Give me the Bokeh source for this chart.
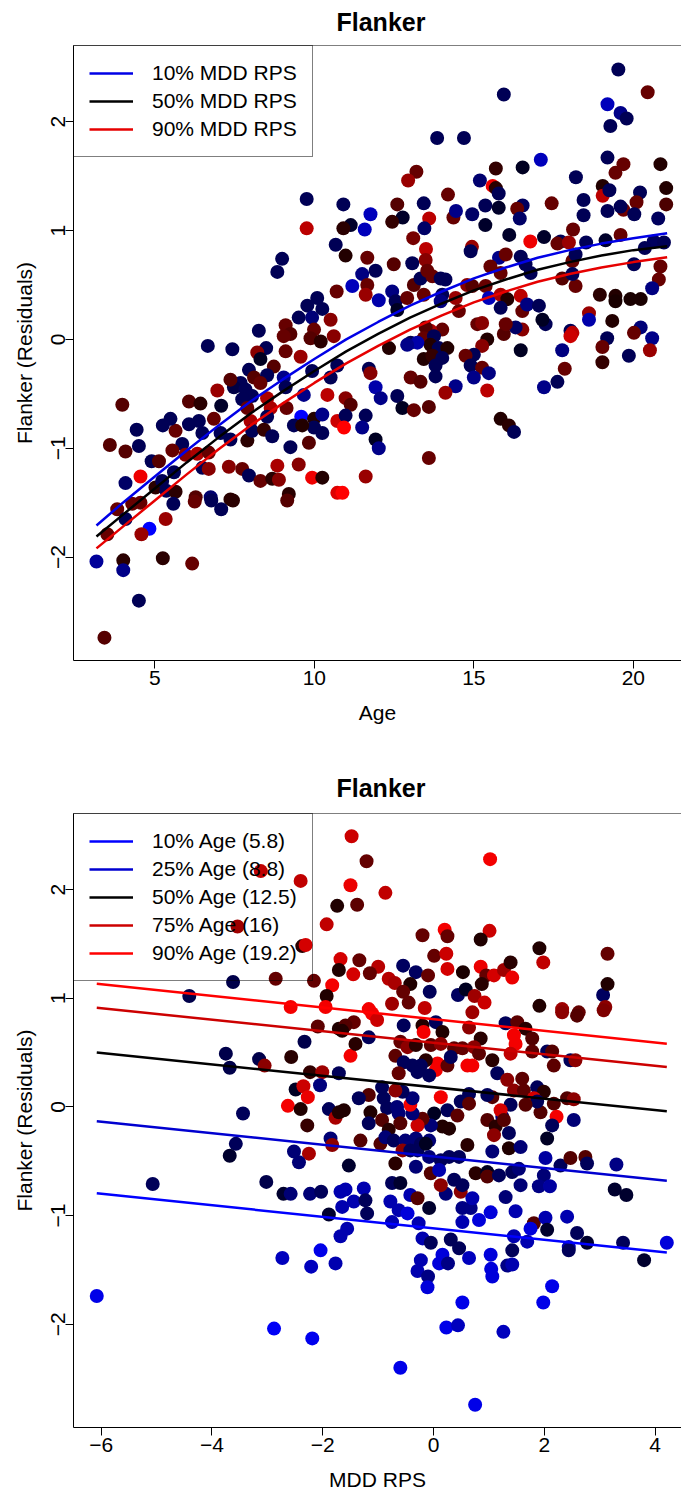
import math
from bokeh.plotting import figure
from bokeh.models import (ColumnDataSource, Range1d, FixedTicker, Span,
                          Legend, LegendItem)
from bokeh.layouts import column
from bokeh.embed import file_html
from bokeh.resources import INLINE

FONT = "Liberation Sans"

# ------------------------------------------------------------------
# Panel 1: Flanker residuals against Age, shaded by MDD RPS
# ------------------------------------------------------------------
top_age = [
    19.53, 20.45, 15.94, 19.19, 19.60, 19.79, 19.28, 13.85, 14.69, 17.10,
    19.19, 19.69, 20.85, 13.20, 12.94, 15.69, 16.53, 19.44, 18.20, 15.19,
    15.59, 15.69, 15.78, 19.04, 19.04, 19.25, 20.21, 21.03, 10.91, 11.76,
    12.60, 12.77, 13.43, 14.19, 15.36, 15.78, 16.53, 16.36, 17.44, 18.44,
    18.44, 19.19, 19.69, 19.60, 20.10, 20.03, 21.03, 20.78, 11.14, 10.91,
    11.58, 12.44, 13.60, 13.45, 14.36, 14.44, 14.95, 15.36, 16.44, 13.10,
    13.50, 14.94, 16.11, 16.77, 17.20, 17.72, 17.62, 17.98, 18.11, 18.52,
    19.13, 19.60, 20.64, 20.96, 20.36, 9.76, 9.76, 10.67, 8.99, 8.84,
    10.70, 10.09, 9.78, 9.51, 9.93, 10.25, 10.51, 9.10, 9.25, 9.04,
    9.99, 9.88, 10.20, 10.61, 8.26, 6.66, 7.43, 8.49, 9.10, 9.57,
    8.21, 8.31, 8.73, 7.95, 8.11, 8.52, 9.04, 9.93, 10.51, 10.72,
    9.10, 8.31, 7.69, 7.48, 7.37, 7.84, 6.96, 8.05, 8.52, 9.67,
    10.41, 6.07, 6.43, 7.08, 7.74, 7.90, 8.63, 9.13, 8.52, 8.00,
    9.59, 9.99, 10.25, 10.72, 9.99, 10.25, 9.36, 9.62, 6.85, 6.38,
    6.07, 5.65, 5.49, 5.25, 4.43, 3.98, 6.49, 7.06, 7.37, 7.90,
    8.05, 8.42, 8.68, 9.25, 9.83, 5.86, 5.55, 5.96, 6.33, 6.69,
    6.49, 6.69, 4.90, 5.13, 4.50, 4.08, 3.59, 4.08, 4.55, 5.02,
    5.23, 5.36, 5.65, 5.60, 6.75, 6.28, 7.37, 7.32, 7.74, 7.95,
    8.31, 8.68, 8.84, 8.89, 9.20, 9.51, 9.93, 10.25, 10.72, 3.82,
    4.29, 4.55, 4.08, 3.51, 4.83, 4.58, 5.34, 5.58, 6.25, 6.77,
    7.08, 7.45, 9.15, 3.17, 4.01, 4.01, 5.25, 6.17, 4.50, 3.42,
    10.98, 11.66, 12.49, 13.07, 13.49, 14.90, 15.79, 16.00, 16.47, 16.62,
    15.52, 15.84, 16.78, 17.77, 18.09, 18.19, 18.19, 18.09, 20.02, 20.85,
    20.80, 20.59, 11.50, 11.92, 11.19, 11.66, 11.61, 12.02, 12.44, 12.55,
    12.60, 12.91, 13.12, 13.33, 13.54, 13.70, 13.96, 14.11, 13.43, 14.01,
    13.96, 14.43, 14.53, 14.79, 14.95, 15.37, 15.47, 15.84, 16.05, 15.84,
    16.47, 16.52, 16.67, 17.04, 17.25, 17.15, 18.61, 18.61, 18.95, 19.44,
    19.44, 19.91, 20.23, 19.34, 20.23, 20.02, 20.59, 20.52, 19.18, 19.03,
    19.03, 19.86, 18.03, 18.09, 18.03, 17.77, 17.85, 17.62, 17.20, 16.47,
    16.52, 16.31, 15.94, 16.00, 15.42, 15.26, 15.00, 14.74, 14.90, 15.26,
    15.47, 15.00, 14.43, 14.11, 15.42, 15.11, 15.26, 14.01, 13.64, 13.49,
    13.43, 13.75, 13.64, 13.90, 14.17, 13.43, 13.70, 14.01, 13.80, 13.80,
    13.02, 13.23, 12.91, 12.34, 13.02, 13.33, 11.71, 11.76, 11.92, 12.08,
    12.60, 12.76, 13.12, 13.59, 10.98, 11.14, 10.98, 11.61, 11.50, 10.93,
    11.92, 12.02, 13.59, 15.84, 16.10, 16.26, 11.61, 10.88,
]
top_resid = [
    2.48, 2.27, 2.25, 2.16, 2.08, 2.03, 1.96, 1.85, 1.85, 1.65,
    1.67, 1.61, 1.61, 1.54, 1.46, 1.57, 1.58, 1.53, 1.49, 1.46,
    1.41, 1.39, 1.34, 1.41, 1.32, 1.37, 1.35, 1.39, 1.24, 1.15,
    1.24, 1.12, 1.25, 1.33, 1.23, 1.21, 1.23, 1.20, 1.25, 1.28,
    1.14, 1.18, 1.19, 1.22, 1.26, 1.15, 1.24, 1.11, 1.05, 1.02,
    1.01, 1.08, 1.11, 1.02, 1.12, 1.18, 1.15, 1.05, 1.11, 0.93,
    0.83, 0.85, 0.96, 0.90, 0.94, 0.90, 0.88, 0.89, 1.01, 0.89,
    0.91, 0.96, 0.90, 0.89, 0.84, 1.29, 1.02, 0.87, 0.74, 0.62,
    0.44, 0.38, 0.31, 0.20, 0.20, 0.28, 0.18, 0.13, 0.05, 0.03,
    0.09, 0.01, -0.02, 0.03, 0.08, -0.06, -0.09, -0.08, -0.11, -0.16,
    -0.12, -0.18, -0.25, -0.28, -0.35, -0.33, -0.35, -0.29, -0.35, -0.24,
    -0.44, -0.40, -0.40, -0.44, -0.37, -0.46, -0.47, -0.52, -0.54, -0.51,
    -0.51, -0.57, -0.59, -0.61, -0.55, -0.63, -0.63, -0.63, -0.71, -0.75,
    -0.71, -0.73, -0.69, -0.75, -0.81, -0.86, -0.79, -0.79, -0.73, -0.75,
    -0.78, -0.84, -0.73, -0.79, -0.83, -0.60, -0.86, -0.86, -0.92, -0.93,
    -0.84, -0.83, -0.89, -0.99, -0.95, -0.96, -1.02, -1.06, -1.05, -1.04,
    -1.18, -1.19, -1.12, -1.12, -0.98, -1.03, -0.97, -1.32, -1.26, -1.36,
    -1.30, -1.39, -1.40, -1.22, -1.45, -1.45, -1.47, -1.17, -1.19, -1.25,
    -1.30, -1.28, -1.16, -1.29, -1.42, -1.15, -1.27, -1.27, -1.41, -1.56,
    -1.51, -1.50, -1.65, -1.79, -1.74, -1.79, -1.65, -1.51, -1.49, -1.48,
    -1.56, -1.48, -1.48, -2.04, -2.03, -2.12, -2.01, -2.06, -2.40, -2.74,
    0.77, 0.75, 0.69, 0.70, 0.73, 0.81, 0.75, 0.78, 0.76, 0.69,
    0.67, 0.61, 0.61, 0.56, 0.72, 0.78, 0.49, 0.60, 0.69, 0.67,
    0.55, 0.47, 0.60, 0.63, 0.49, 0.50, 0.41, 0.36, 0.44, 0.35,
    0.27, 0.38, 0.50, 0.56, 0.63, 0.58, 0.56, 0.55, 0.41, 0.41,
    0.35, 0.38, 0.26, 0.50, 0.49, 0.49, 0.38, 0.41, 0.37, 0.29,
    0.40, 0.26, 0.32, 0.31, 0.14, 0.18, 0.24, 0.18, 0.41, 0.40,
    0.35, 0.37, 0.37, 0.17, 0.11, 0.06, 0.01, -0.10, 0.01, -0.07,
    -0.21, -0.15, 0.08, 0.06, 0.03, -0.10, -0.27, -0.39, -0.44, -0.10,
    0.09, 0.11, 0.05, 0.14, 0.00, -0.06, -0.14, -0.15, -0.24, -0.26,
    -0.31, -0.35, -0.43, -0.49, -0.47, 0.14, 0.15, 0.09, 0.08, 0.11,
    0.01, 0.03, -0.05, -0.08, -0.08, -0.18, -0.15, -0.17, -0.24, -0.34,
    -0.03, -0.03, -0.05, -0.08, -0.35, -0.39, -0.27, -0.31, -0.44, -0.54,
    -0.52, -0.63, -0.65, -0.62, -0.54, -0.60, -0.70, -0.70, -0.81, -0.81,
    -0.92, -1.00, -1.09, -0.73, -0.79, -0.85, -1.26, -1.41,
]
top_mdd = [
    -1.0, 1.2, -1.0, -2.2, -1.6, -1.0, -1.0, -1.0, -1.0, -2.2,
    -1.0, 1.2, 0.4, 1.2, 1.8, 0.6, -0.4, 1.2, -1.0, -1.3,
    2.8, 0.5, -1.0, 0.4, 2.2, -1.0, -1.0, 0.4, -1.0, -2.2,
    1.0, -0.5, -1.0, 1.2, -1.0, -0.5, -1.1, 1.2, 1.2, -1.0,
    -1.0, -1.0, 1.3, -1.0, 1.2, -1.0, 0.9, -1.1, -0.5, 0.5,
    -2.2, 0.6, 2.2, -1.2, 1.2, -1.6, -1.2, -0.5, -1.2, 1.4,
    2.2, 1.8, -0.5, 2.8, -0.5, -1.0, 1.2, 1.8, 1.2, -1.0,
    -0.5, 1.2, -1.1, -1.0, -1.0, -1.0, 2.2, -1.0, -1.0, -1.0,
    1.2, -1.0, -1.0, -1.0, -1.4, -1.0, 1.6, 1.2, 1.0, 1.2,
    1.2, 1.0, 0.5, 1.6, -1.0, -1.0, -1.0, -1.0, 1.2, 1.8,
    1.6, -0.4, 1.0, -1.0, 1.0, -1.0, -1.6, -1.0, -1.0, -1.0,
    -1.0, 1.2, -1.0, -0.8, 1.0, -1.0, 1.8, -1.0, 2.0, -1.6,
    2.2, 1.0, 0.5, -0.5, -1.0, 1.2, 2.0, 1.2, -1.0, 2.0,
    -3.0, 0.4, -1.6, 2.4, -1.0, -1.0, -1.0, 0.4, 1.2, -1.0,
    -1.0, 1.2, -1.0, -1.0, -1.0, 1.0, -1.0, -1.0, -1.0, 0.5,
    -1.0, 0.6, -1.0, -1.0, 1.0, -1.0, 1.2, 1.6, 2.0, 1.2,
    -1.0, 1.6, -1.0, 1.0, -1.0, 1.0, 1.0, -1.2, 2.8, 0.5,
    -1.0, -1.0, 0.5, -1.0, -1.3, 1.0, 0.5, 1.6, 1.2, -1.0,
    1.2, 0.5, 2.0, 1.6, 0.5, 1.6, 2.8, 0.4, 2.6, 1.2,
    1.2, 1.2, -1.0, 1.2, -3.0, 1.8, 1.8, -1.0, 1.2, -1.0,
    -1.0, 0.5, 1.0, -1.8, 0.5, -1.6, 0.5, 1.2, -1.0, 1.0,
    0.4, 1.2, 1.0, -1.0, 1.6, -1.0, -1.6, 1.2, -1.0, -1.0,
    1.2, 1.2, -1.0, 1.0, 1.2, -1.0, 1.2, -1.0, -1.0, 1.2,
    1.2, -1.5, -1.5, -1.0, -2.2, 1.2, 1.8, -2.0, -1.5, -1.0,
    -0.4, 1.2, 1.0, -1.0, 1.2, 1.2, -1.0, -1.0, 1.2, -1.0,
    -1.5, 1.8, 1.2, 1.6, 1.0, 1.2, -2.2, 2.0, 0.4, -1.0,
    2.2, 1.2, -1.5, -1.0, -1.0, -0.4, 1.8, -2.0, 0.5, 0.4,
    0.3, 0.3, 0.3, 0.4, -1.4, 1.2, -1.6, 1.8, -1.0, 1.2,
    0.6, -1.0, -1.0, 2.2, 2.4, -1.5, 1.2, -1.0, -1.6, -0.4,
    1.6, -1.2, 1.0, 1.2, 0.4, 1.6, -1.0, 1.2, -1.0, 1.2,
    -1.5, -1.6, -1.6, 1.8, 2.2, 1.2, 1.6, 1.2, 2.0, 1.0,
    1.2, -1.0, 0.4, -1.0, 0.4, 0.4, 0.6, -1.0, -1.0, -1.0,
    -1.0, -2.0, -1.6, 0.4, 1.2, 1.0, -1.0, 1.6, -2.0, -1.6,
    -1.0, -0.4, 1.2, 1.0, 1.6, 1.0, -1.0, -1.0, -1.6, 3.0,
    -0.4, -1.6, 1.2, 0.4, 0.5, -1.0, 1.8, 3.0,
]

# model curves at the 10th / 50th / 90th MDD RPS percentiles
curve_age = [3.17, 4, 5, 6, 7, 8, 9, 10, 11, 12, 13, 14, 15, 16, 17, 18, 19, 20, 21.06]
curve_mdd10 = [-1.71, -1.50, -1.26, -1.02, -0.79, -0.57, -0.37, -0.18, 0.00, 0.16,
               0.31, 0.44, 0.56, 0.66, 0.75, 0.82, 0.88, 0.93, 0.975]
curve_mdd50 = [-1.81, -1.61, -1.37, -1.13, -0.90, -0.68, -0.48, -0.29, -0.11, 0.05,
               0.20, 0.33, 0.45, 0.55, 0.64, 0.71, 0.77, 0.82, 0.856]
curve_mdd90 = [-1.92, -1.72, -1.48, -1.24, -1.01, -0.79, -0.59, -0.40, -0.22, -0.06,
               0.09, 0.22, 0.34, 0.44, 0.53, 0.60, 0.66, 0.71, 0.755]

# ------------------------------------------------------------------
# Panel 2: Flanker residuals against MDD RPS, shaded by Age
# ------------------------------------------------------------------
bot_mdd = [
    -3.12, -2.40, -1.74, -3.54, -1.93, -2.37, -2.31, -1.68, -1.71, -3.62,
    -2.85, -2.16, -1.83, -1.93, -4.41, -2.58, -1.95, -1.48, 1.02, -1.21,
    -1.50, -0.87, -1.38, -0.20, 0.20, 0.25, 1.01, 0.85, 1.91, 3.14,
    1.98, 0.01, 0.23, -1.34, -1.00, -1.45, -1.15, -0.81, -0.70, -0.55,
    -0.32, -0.10, -0.42, -0.55, -0.07, 0.25, 0.53, 0.44, 0.58, 0.85,
    0.95, 1.09, 1.27, 1.39, 1.42, 0.87, 0.74, 0.92, -0.75, -0.45,
    -0.16, 3.06, 3.14, 3.10, 1.91, 2.32, 2.62, -1.17, -2.09, -2.33,
    -1.71, -3.75, -3.68, -3.15, -3.05, -2.57, -2.23, -2.01, -1.71, -2.49,
    -2.35, -2.05, -2.27, -2.63, -2.40, -1.89, -1.77, -1.71, -2.28, -3.44,
    -3.57, -3.68, -2.52, -2.25, -2.43, -1.86, -1.83, -5.07, -3.02, -2.71,
    -2.58, -2.23, -2.03, -1.68, -1.89, -1.68, -2.04, -2.73, -1.11, -1.02,
    -1.44, -1.59, -1.65, -1.17, -1.50, -1.41, -0.54, -0.20, 0.04, -0.18,
    0.16, 0.70, 0.64, 0.85, 1.30, 1.51, 1.66, 1.45, 1.78, 1.48,
    1.39, 1.78, 2.05, 2.14, 2.17, 2.47, 2.56, 2.32, 2.59, 3.07,
    -0.60, -0.47, -0.69, -0.32, -0.05, 0.13, 0.37, 0.52, 0.73, 0.82,
    1.06, 0.61, 0.70, 0.07, 0.04, 0.25, -0.14, -0.23, -0.38, -0.54,
    -0.63, -0.29, -0.08, 0.31, 1.15, 1.33, 1.60, 1.45, 1.63, 1.87,
    1.99, 1.81, 2.17, 2.41, 2.53, 1.93, 2.22, 1.87, 2.14, 2.53,
    2.05, 1.66, 1.39, 1.24, 1.21, 1.06, 0.97, 0.97, 1.12, 1.09,
    1.36, 1.27, 1.36, 1.57, 1.06, 0.64, 0.49, 0.64, 0.13, 0.25,
    0.43, 0.01, 0.16, 0.28, -0.05, -0.20, -0.29, -0.38, -0.42, -0.38,
    -0.56, -0.69, -0.90, -0.93, -1.17, -1.35, -0.84, -0.66, -0.63, -1.14,
    -1.17, -0.93, -0.60, -0.81, -1.62, -1.32, -0.96, -0.87, -0.72, -0.51,
    -0.32, -0.23, -0.08, -0.56, -0.42, -0.29, -0.14, 0.61, -0.69, -0.32,
    -0.08, 0.13, 0.28, 0.46, -0.05, 0.10, 0.37, 0.22, 0.13, 0.49,
    0.52, 0.76, 0.97, 0.97, 1.18, 1.42, 1.54, 1.57, 1.30, 1.99,
    2.02, 1.90, 2.10, 2.29, 2.47, 2.74, 2.77, 3.30, 3.27, 3.48,
    -1.53, -1.59, -1.26, -1.44, -1.23, -0.75, -0.60, -0.78, -0.42, -0.29,
    -0.63, -0.47, -0.08, 0.52, 0.67, 0.70, 0.82, 1.03, 0.52, 1.48,
    1.81, 1.75, 2.02, 2.05, 2.41, 2.59, 2.77, 1.45, 1.69, 2.44,
    3.42, 4.21, -1.56, -1.65, -1.20, -0.75, -0.27, -0.20, -0.05, 0.31,
    0.46, 0.16, 1.03, 1.42, -0.23, -6.08, -2.21, -1.77, -2.88, -2.19,
    -0.29, -0.10, -0.11, 0.10, 0.26, 0.64, 1.04, 1.06, 1.33, 1.42,
    2.44, 0.52, 0.23, 0.44, 1.26, 1.98, 2.14, -0.60, 0.75, 3.80,
]
bot_resid = [
    2.17, 2.08, 1.85, 1.66, 1.68, 1.48, 1.49, 1.36, 1.26, 1.15,
    1.18, 1.16, 1.12, 1.02, 1.02, 0.92, 0.92, 2.49, 2.28, 2.26,
    2.04, 1.97, 1.86, 1.58, 1.63, 1.57, 1.62, 1.54, 1.46, 1.41,
    1.33, 1.39, 1.41, 1.35, 1.29, 1.22, 1.23, 1.18, 1.14, 1.30,
    1.24, 1.21, 1.13, 1.06, 1.06, 1.27, 1.24, 1.03, 1.08, 1.29,
    1.21, 1.21, 1.26, 1.33, 1.19, 1.13, 1.02, 0.96, 0.95, 0.96,
    0.91, 1.03, 1.13, 0.92, 0.93, 0.90, 0.87, 0.90, 0.74, 0.60,
    0.72, 0.49, 0.36, 0.44, 0.38, 0.46, 0.32, 0.32, 0.31, 0.16,
    0.19, 0.20, 0.09, 0.01, -0.02, -0.02, -0.10, -0.05, -0.17, -0.06,
    -0.34, -0.45, -0.41, -0.43, -0.51, -0.29, -0.35, -0.71, -0.69, -0.80,
    -0.80, -0.80, -0.78, -0.78, -0.99, -1.19, -1.32, -1.39, 0.86, 0.80,
    0.78, 0.75, 0.70, 0.64, 0.47, 0.58, 0.75, 0.75, 0.78, 0.69,
    0.69, 0.87, 0.73, 0.63, 0.77, 0.78, 0.72, 0.66, 0.63, 0.58,
    0.49, 0.51, 0.51, 0.51, 0.38, 0.43, 0.43, 0.87, 0.84, 0.89,
    0.60, 0.55, 0.47, 0.57, 0.57, 0.58, 0.54, 0.54, 0.55, 0.49,
    0.43, 0.38, 0.38, 0.40, 0.34, 0.38, 0.43, 0.38, 0.38, 0.41,
    0.31, 0.32, 0.29, 0.46, 0.31, 0.25, 0.26, 0.15, 0.15, 0.18,
    0.14, 0.08, 0.03, 0.08, 0.07, -0.05, -0.09, 0.05, -0.17, -0.12,
    -0.29, 0.02, 0.02, -0.09, -0.03, 0.09, 0.11, -0.12, -0.18, -0.26,
    -0.24, -0.12, -0.38, -0.37, -0.41, 0.12, 0.05, 0.03, 0.09, -0.03,
    -0.08, -0.06, -0.18, -0.20, -0.17, -0.11, -0.17, -0.06, 0.02, 0.08,
    0.14, 0.15, 0.08, 0.18, 0.11, 0.08, -0.01, 0.00, -0.06, -0.05,
    -0.15, -0.12, -0.15, -0.21, -0.03, -0.31, -0.34, -0.28, -0.31, -0.31,
    -0.29, -0.34, -0.31, -0.40, -0.40, -0.40, -0.34, -0.35, -0.52, -0.55,
    -0.46, -0.49, -0.46, -0.46, -0.61, -0.58, -0.67, -0.80, -0.72, -0.78,
    -0.72, -0.61, -0.60, -0.64, -0.63, -0.60, -0.57, -0.72, -0.83, -0.63,
    -0.47, -0.73, -0.73, -0.54, -0.47, -0.46, -0.52, -0.53, -0.76, -0.81,
    -0.54, -0.76, -0.75, -0.87, -0.86, -0.70, -0.70, -0.87, -0.81, -0.84,
    -0.95, -0.98, -0.93, -0.93, -0.93, -0.84, -1.04, -0.97, -1.06, -0.96,
    -1.07, -1.12, -1.02, -1.13, -1.01, -1.16, -1.25, -1.19, -1.24, -1.29,
    -1.25, -1.25, -1.12, -0.92, -0.98, -1.06, -1.07, -1.21, -1.25, -1.22,
    -1.30, -1.36, -1.36, -1.32, -1.41, -1.74, -1.47, -1.44, -2.04, -2.13,
    -1.51, -1.56, -1.66, -1.44, -1.44, -1.39, -1.49, -1.56, -1.46, -1.45,
    -1.32, -1.80, -2.03, -2.01, -2.07, -1.80, -1.65, -2.40, -2.74, -1.41,
]
bot_age = [
    18.8, 18.8, 13.2, 17.6, 18.8, 13.5, 19.5, 19.5, 13.2, 9.5,
    15.6, 15.6, 20.6, 13.2, 9.5, 20.6, 20.6, 19.2, 20.6, 15.6,
    20.3, 18.8, 15.3, 15.6, 20.6, 15.6, 19.2, 13.2, 13.2, 15.6,
    18.8, 15.6, 19.2, 15.6, 18.5, 19.5, 15.6, 18.5, 18.0, 8.8,
    8.8, 15.6, 13.2, 15.6, 9.0, 19.5, 13.0, 8.8, 11.0, 20.3,
    15.6, 19.5, 17.6, 13.5, 20.3, 13.5, 17.6, 19.2, 17.6, 15.6,
    18.8, 8.8, 13.2, 17.0, 13.2, 17.6, 15.6, 20.6, 15.3, 9.5,
    13.2, 9.5, 9.5, 9.5, 17.0, 13.5, 13.8, 17.6, 9.0, 10.8,
    19.2, 7.8, 20.3, 20.6, 13.2, 9.0, 18.0, 13.2, 14.0, 9.0,
    9.0, 10.5, 8.0, 18.0, 8.0, 8.0, 17.0, 9.0, 9.5, 10.5,
    8.0, 8.0, 9.0, 6.0, 10.5, 6.0, 4.0, 5.5, 20.6, 19.2,
    15.6, 15.0, 13.2, 9.0, 20.6, 13.5, 9.0, 13.2, 9.0, 20.6,
    13.2, 17.6, 17.0, 13.5, 9.0, 15.3, 13.5, 20.6, 15.0, 20.6,
    18.8, 15.3, 9.0, 15.0, 15.3, 9.0, 17.0, 17.0, 15.0, 16.5,
    15.6, 17.0, 15.3, 13.5, 15.3, 17.0, 15.3, 15.6, 17.0, 15.3,
    13.5, 20.6, 20.6, 20.6, 20.6, 15.3, 13.5, 9.0, 9.0, 9.0,
    15.6, 9.0, 9.0, 9.0, 9.0, 17.0, 15.3, 17.0, 15.3, 9.0,
    13.5, 19.5, 15.0, 15.0, 17.0, 15.0, 20.6, 9.0, 9.0, 8.0,
    10.8, 15.0, 9.0, 8.0, 19.5, 15.0, 9.0, 15.0, 13.5, 17.0,
    9.0, 15.0, 13.2, 8.0, 8.0, 9.0, 9.0, 15.3, 20.6, 9.0,
    15.3, 11.0, 13.2, 13.2, 8.0, 15.3, 19.2, 8.0, 20.6, 8.0,
    9.0, 17.0, 9.0, 9.0, 15.0, 9.0, 9.0, 8.0, 8.0, 13.2,
    9.0, 15.0, 15.0, 13.5, 13.2, 15.0, 15.0, 8.0, 9.0, 8.0,
    8.0, 9.0, 8.0, 17.0, 9.0, 9.0, 11.0, 13.5, 13.5, 8.0,
    8.0, 9.0, 9.0, 9.0, 15.0, 6.0, 9.0, 8.0, 17.0, 17.0,
    9.0, 13.5, 11.0, 15.0, 9.0, 9.0, 8.0, 8.0, 8.0, 8.0,
    6.5, 7.5, 6.5, 9.0, 15.0, 15.0, 9.0, 7.5, 10.5, 10.5,
    10.5, 6.0, 6.0, 6.0, 9.0, 9.0, 10.5, 6.0, 6.0, 15.0,
    6.0, 4.5, 10.5, 7.5, 7.5, 6.0, 4.5, 4.5, 6.0, 6.0,
    15.0, 4.5, 6.0, 10.5, 6.0, 9.0, 10.5, 6.0, 6.0, 6.0,
    9.0, 4.5, 6.0, 6.0, 9.0, 6.0, 6.0, 6.0, 9.0, 9.0,
    9.0, 4.5, 4.5, 9.0, 6.0, 4.0, 5.5, 6.0, 3.5, 3.8,
    6.0, 7.5, 4.5, 4.5, 7.5, 5.5, 4.5, 4.5, 7.5, 6.0,
    9.0, 4.0, 4.0, 5.5, 5.5, 4.0, 4.0, 4.0, 4.0, 10.5,
]

# model lines at the Age percentiles (ends of the MDD RPS span)
line_mdd = [-6.08, 4.21]
line_age10 = [-0.795, -1.34]
line_age25 = [-0.131, -0.68]
line_age50 = [0.50, -0.04]
line_age75 = [0.913, 0.367]
line_age90 = [1.133, 0.582]


def ramp_color(t):
    """blue -> black -> red ramp for t in [-1, 1]."""
    t = max(-1.0, min(1.0, t))
    level = int(round(abs(t) * 255))
    return "#%02x%02x%02x" % ((level, 0, 0) if t > 0 else (0, 0, level))


Y_RANGE = (-2.95, 2.70)


def make_panel(x_range, height, top, bottom, ticks_x, xlabel, title_gap):
    p = figure(width=681, height=height, x_range=Range1d(*x_range),
               y_range=Range1d(*Y_RANGE), output_backend="svg",
               toolbar_location=None, min_border_left=73, min_border_right=0,
               min_border_top=top, min_border_bottom=bottom,
               title="Flanker")
    p.background_fill_color = "white"
    p.border_fill_color = "white"
    p.outline_line_color = None
    p.xgrid.visible = False
    p.ygrid.visible = False

    p.title.align = "left"
    p.title.offset = 263
    p.title.vertical_align = "top"
    p.title.standoff = title_gap
    p.title.text_font = FONT
    p.title.text_font_size = "25px"
    p.title.text_font_style = "bold"
    p.title.text_color = "black"

    p.xaxis.ticker = FixedTicker(ticks=ticks_x)
    p.yaxis.ticker = FixedTicker(ticks=[-2, -1, 0, 1, 2])
    for ax in (p.xaxis, p.yaxis):
        ax.axis_line_color = "black"
        ax.axis_line_width = 1
        ax.major_tick_line_color = "black"
        ax.major_tick_line_width = 1
        ax.major_tick_out = 8
        ax.major_tick_in = 0
        ax.minor_tick_line_color = None
        ax.major_label_text_font = FONT
        ax.major_label_text_font_size = "21px"
        ax.major_label_text_color = "black"
        ax.axis_label_text_font = FONT
        ax.axis_label_text_font_size = "21px"
        ax.axis_label_text_font_style = "normal"
        ax.axis_label_text_color = "black"
    p.xaxis.major_label_standoff = 2
    p.yaxis.major_label_standoff = 0
    p.yaxis.major_label_orientation = "vertical"
    p.xaxis.axis_label = xlabel
    p.yaxis.axis_label = "Flanker (Residuals)"
    p.xaxis.axis_label_standoff = 13
    p.yaxis.axis_label_standoff = 13
    p.add_layout(Span(location=Y_RANGE[1], dimension="width",
                      line_color="black", line_width=1))
    return p


def make_legend(items):
    return Legend(items=items, location="top_left", margin=0, padding=15,
                  spacing=4, glyph_width=44, glyph_height=22, label_height=22,
                  label_standoff=19, label_text_font=FONT,
                  label_text_font_size="21px", label_text_color="black",
                  border_line_color="black", border_line_width=1,
                  background_fill_alpha=0)


# ---------------- panel 1 ----------------
p1 = make_panel((2.45, 21.51), 746, 45, 86, [5, 10, 15, 20], "Age", 15)
src1 = ColumnDataSource(dict(age=top_age, resid=top_resid,
                             color=[ramp_color(m / 3.0) for m in top_mdd]))
p1.scatter("age", "resid", source=src1, size=14, fill_color="color",
           line_color=None)
r10 = p1.line(curve_age, curve_mdd10, line_color="#0000E6", line_width=2.5)
r50 = p1.line(curve_age, curve_mdd50, line_color="black", line_width=2.5)
r90 = p1.line(curve_age, curve_mdd90, line_color="#E60000", line_width=2.5)
p1.add_layout(make_legend([
    LegendItem(label="10% MDD RPS", renderers=[r10]),
    LegendItem(label="50% MDD RPS", renderers=[r50]),
    LegendItem(label="90% MDD RPS", renderers=[r90]),
]))

# ---------------- panel 2 ----------------
p2 = make_panel((-6.50, 4.475), 747, 67, 65, [-6, -4, -2, 0, 2, 4], "MDD RPS", 20)
src2 = ColumnDataSource(dict(mdd=bot_mdd, resid=bot_resid,
                             color=[ramp_color((a - 12.1) / 8.9) for a in bot_age]))
p2.scatter("mdd", "resid", source=src2, size=14, fill_color="color",
           line_color=None)
l10 = p2.line(line_mdd, line_age10, line_color="#0000FF", line_width=2.5)
l25 = p2.line(line_mdd, line_age25, line_color="#0000D0", line_width=2.5)
l50 = p2.line(line_mdd, line_age50, line_color="black", line_width=2.5)
l75 = p2.line(line_mdd, line_age75, line_color="#CC0000", line_width=2.5)
l90 = p2.line(line_mdd, line_age90, line_color="#FF0000", line_width=2.5)
p2.add_layout(make_legend([
    LegendItem(label="10% Age (5.8)", renderers=[l10]),
    LegendItem(label="25% Age (8.8)", renderers=[l25]),
    LegendItem(label="50% Age (12.5)", renderers=[l50]),
    LegendItem(label="75% Age (16)", renderers=[l75]),
    LegendItem(label="90% Age (19.2)", renderers=[l90]),
]))

layout = column(p1, p2, spacing=0)
open("out.html", "w").write(file_html(layout, INLINE))
